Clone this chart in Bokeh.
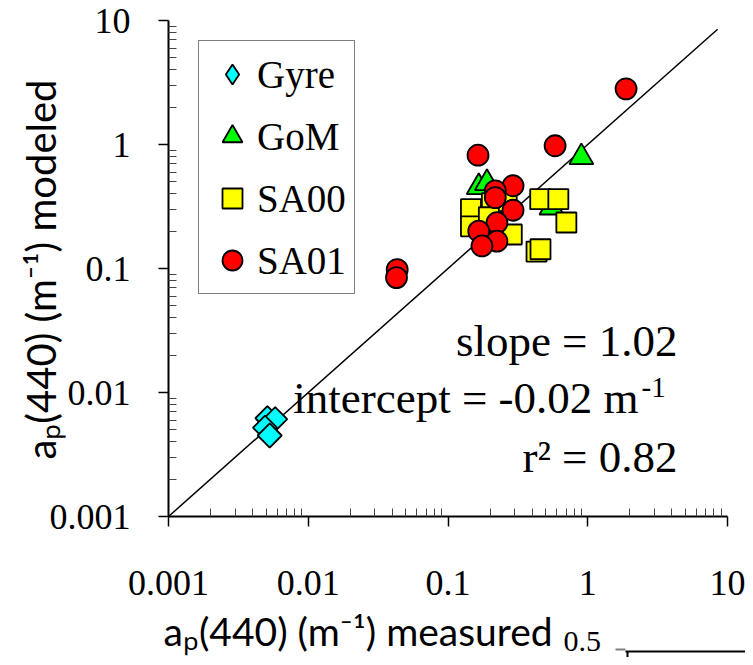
import numpy as np
from bokeh.plotting import figure
from bokeh.models import (Range1d, Label, Legend, LegendItem, Arrow, FixedTicker,
                          CustomJSTickFormatter)
from bokeh.embed import file_html
from bokeh.resources import INLINE

# ---- data ----
gyre_x = [0.0051, 0.0058, 0.0049, 0.0053]
gyre_y = [0.0062, 0.0061, 0.0052, 0.0045]

gom_x = [0.166, 0.190, 0.186, 0.55, 0.90]
gom_y = [0.453, 0.488, 0.24, 0.31, 0.79]

sa00_x = [0.146, 0.146, 0.206, 0.263, 0.196, 0.286, 0.457, 0.616, 0.703, 0.430, 0.459]
sa00_y = [0.301, 0.219, 0.336, 0.349, 0.259, 0.188, 0.362, 0.362, 0.235, 0.137, 0.143]

sa01_x = [0.164, 0.584, 1.88, 0.0433, 0.0428, 0.292, 0.218, 0.218, 0.292, 0.224, 0.166, 0.224, 0.175]
sa01_y = [0.82, 0.977, 2.81, 0.098, 0.0845, 0.465, 0.423, 0.373, 0.295, 0.234, 0.200, 0.166, 0.152]

one_to_one = [0.001, 8.5]

axis_min, axis_max = 0.001, 10
tick_values = [0.001, 0.01, 0.1, 1, 10]
tick_labels = ["0.001", "0.01", "0.1", "1", "10"]
minor_values = [k * 10.0 ** e for e in range(-3, 1) for k in range(2, 10)]

series_names = ["Gyre", "GoM", "SA00", "SA01"]
stats_lines = ["slope = 1.02", "intercept = -0.02 m", "r\u00b2 = 0.82"]
x_title = "a\u209a(440) (m\u207b\u00b9) measured"
y_title = "a\u209a(440) (m\u207b\u00b9) modeled"

SERIF = "Liberation Serif"
SANS = "Lato"

# ---- page geometry (pixels) ----
W, H = 745, 657
AX_L, AX_R = 168, 727      # x pixel of 0.001 and 10
AX_T, AX_B = 20, 516       # y pixel of 10 and 0.001
xdec = (AX_R - AX_L) / 4.0
ydec = (AX_B - AX_T) / 4.0
x_lo = 10 ** (-3 - AX_L / xdec)
x_hi = 10 ** (1 + (W - AX_R) / xdec)
y_hi = 10 ** (1 + AX_T / ydec)
y_lo = 10 ** (-3 - (H - AX_B) / ydec)

p = figure(width=W, height=H, x_axis_type="log", y_axis_type="log",
           x_range=Range1d(x_lo, x_hi), y_range=Range1d(y_lo, y_hi),
           output_backend="svg", toolbar_location=None,
           min_border=0)
p.min_border_left = 0
p.min_border_right = 0
p.min_border_top = 0
p.min_border_bottom = 0
p.outline_line_color = None
p.xgrid.visible = False
p.ygrid.visible = False
p.background_fill_color = "white"
p.border_fill_color = "white"

fmt = CustomJSTickFormatter(args=dict(vals=tick_values, labs=tick_labels), code="""
for (let i = 0; i < vals.length; i++) {
  if (Math.abs(Math.log10(tick) - Math.log10(vals[i])) < 1e-6) { return labs[i]; }
}
return '';
""")

for ax in (p.xaxis[0], p.yaxis[0]):
    ax.ticker = FixedTicker(ticks=tick_values, minor_ticks=minor_values)
    ax.formatter = fmt
    ax.fixed_location = axis_min
    ax.bounds = (axis_min, axis_max)
    ax.axis_line_width = 2
    ax.axis_line_color = "black"
    ax.major_tick_line_width = 1.5
    ax.major_tick_line_color = "black"
    ax.major_tick_out = 10
    ax.major_tick_in = 0
    ax.minor_tick_line_width = 1
    ax.minor_tick_line_color = "#444444"
    ax.minor_tick_in = 8
    ax.minor_tick_out = 0
    ax.major_label_text_font = SERIF
    ax.major_label_text_font_size = "36px"
    ax.major_label_text_color = "black"

p.xaxis[0].major_label_standoff = 44
p.yaxis[0].major_label_standoff = 28

# 1:1 line
p.line(one_to_one, one_to_one, line_color="black", line_width=1.5)

# legend key for the diamond, hidden under the rotated squares
r_gyre_key = p.scatter(gyre_x, gyre_y, marker="diamond", size=19,
                       fill_color="#00FFFF", line_color="black", line_width=1.8)
# markers
r_gyre = p.scatter(gyre_x, gyre_y, marker="square", angle=np.pi / 4, size=17,
                   fill_color="#00FFFF", line_color="black", line_width=1.8)
r_gom = p.scatter(gom_x, gom_y, marker="triangle", size=24,
                  fill_color="#00FF00", line_color="black", line_width=1.8)
r_sa00 = p.scatter(sa00_x, sa00_y, marker="square", size=20,
                   fill_color="#FFFF00", line_color="black", line_width=1.8)
r_sa01 = p.scatter(sa01_x, sa01_y, marker="circle", size=21,
                   fill_color="#FF0000", line_color="black", line_width=1.8)

legend = Legend(items=[LegendItem(label=series_names[0], renderers=[r_gyre_key]),
                       LegendItem(label=series_names[1], renderers=[r_gom]),
                       LegendItem(label=series_names[2], renderers=[r_sa00]),
                       LegendItem(label=series_names[3], renderers=[r_sa01])],
                location=(198, H - 294), margin=0, padding=8, spacing=12,
                glyph_width=50, glyph_height=50, label_height=50, label_standoff=0,
                label_text_font=SERIF, label_text_font_size="39px",
                label_text_color="black",
                border_line_color="black", border_line_width=1.5,
                background_fill_color="white", background_fill_alpha=1.0)
p.add_layout(legend)


def add_text(text, x, y_img, font, size, align, angle=0.0):
    # centre of the text box sits (ascent-descent)/2 above the baseline
    k = 0.3375 if font == SERIF else 0.387
    yc = y_img - k * size if angle == 0.0 else y_img
    p.add_layout(Label(x=x, y=H - yc, x_units="screen", y_units="screen", text=text,
                       text_font=font, text_font_size=f"{size}px", text_align=align,
                       text_baseline="middle", text_color="black", angle=angle))


# statistics (baselines in page pixels)
add_text(stats_lines[0], 677, 356, SERIF, 45, "right")
add_text(stats_lines[1], 638, 413, SERIF, 45, "right")
add_text("-1", 641, 397, SERIF, 29, "left")
add_text(stats_lines[2], 677, 472, SERIF, 45, "right")

# axis titles
add_text(x_title, 163, 646, SANS, 39, "left")
add_text(y_title, 40, 269, SANS, 40, "center", angle=np.pi / 2)

# stray fragments at the bottom right
add_text("0.5", 563, 651, SERIF, 30, "left")
p.add_layout(Arrow(end=None, x_start=615, y_start=H - 649, x_end=625, y_end=H - 649,
                   start_units="screen", end_units="screen",
                   line_color="#808080", line_width=2))
p.add_layout(Arrow(end=None, x_start=625, y_start=H - 651, x_end=W, y_end=H - 651,
                   start_units="screen", end_units="screen",
                   line_color="black", line_width=2))
p.add_layout(Arrow(end=None, x_start=627, y_start=H - 651, x_end=627, y_end=-5,
                   start_units="screen", end_units="screen",
                   line_color="black", line_width=2))

open("out.html", "w").write(file_html(p, INLINE))
